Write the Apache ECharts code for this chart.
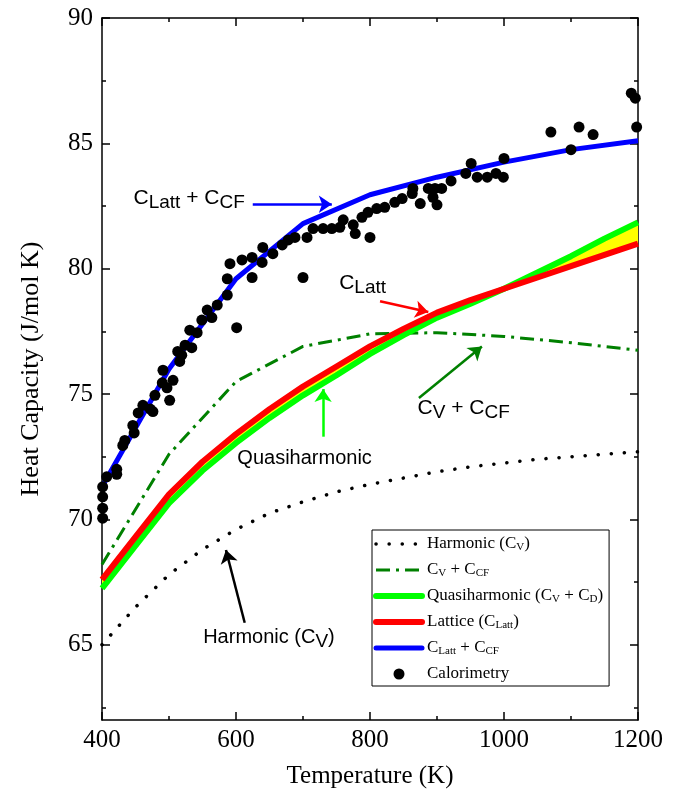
<!DOCTYPE html>
<html>
<head>
<meta charset="utf-8">
<script src="https://cdn.jsdelivr.net/npm/echarts@6/dist/echarts.min.js"></script>
<style>
  html, body { margin: 0; padding: 0; background: #fff; }
  #main { width: 679px; height: 800px; }
</style>
</head>
<body>
<div id="main"></div>
<script>
// temperature grids (K)
var tempsFine = [400, 450, 500, 550, 600, 650, 700, 750, 800, 850, 900, 950, 1000, 1050, 1100, 1150, 1200];
var tempsCoarse = [400, 500, 600, 700, 800, 900, 1000, 1100, 1200];

// model curves, J/mol K
var harmonic = [65.0, 66.5, 67.8, 68.8, 69.6, 70.25, 70.7, 71.1, 71.4, 71.65, 71.9, 72.1, 72.25, 72.4, 72.5, 72.6, 72.7];
var lattice = [67.6, 69.3, 71.0, 72.3, 73.4, 74.4, 75.3, 76.1, 76.9, 77.6, 78.25, 78.75, 79.2, 79.65, 80.1, 80.55, 81.0];
var quasiharm = [67.25, 68.95, 70.65, 71.95, 73.05, 74.05, 74.95, 75.75, 76.6, 77.35, 78.05, 78.6, 79.2, 79.85, 80.5, 81.2, 81.85];
var cvPlusCf = [68.2, 72.6, 75.5, 76.9, 77.4, 77.45, 77.3, 77.05, 76.75];
var lattPlusCf = [71.3, 76.0, 79.6, 81.8, 82.95, 83.65, 84.25, 84.75, 85.1];

// calorimetry points
var calTemps = [401, 401, 401, 401, 407, 422, 422, 431, 434, 446, 448, 454, 461, 472, 476, 479, 491, 490, 497, 501,
  506, 516, 519, 513, 524, 534, 531, 542, 549, 557, 564, 572, 587, 587, 591, 601, 609, 624, 624, 639,
  640, 655, 669, 678, 688, 700, 706, 715, 730, 743, 755, 760, 775, 778, 788, 800, 797, 810, 822, 837,
  848, 863, 864, 875, 887, 894, 897, 900, 907, 921, 943, 951, 960, 975, 988, 999, 1000, 1070, 1100, 1112,
  1133, 1190, 1196, 1198];
var calCp = [71.3, 70.9, 70.45, 70.05, 71.7, 72.0, 71.8, 72.95, 73.15, 73.75, 73.45, 74.25, 74.55, 74.4, 74.3, 74.95, 75.95, 75.45, 75.25, 74.75,
  75.55, 76.3, 76.55, 76.7, 76.95, 76.85, 77.55, 77.45, 77.95, 78.35, 78.05, 78.55, 78.95, 79.6, 80.2, 77.65, 80.35, 80.45, 79.65, 80.25,
  80.85, 80.6, 80.95, 81.15, 81.25, 79.65, 81.25, 81.6, 81.6, 81.6, 81.65, 81.95, 81.75, 81.4, 82.05, 81.25, 82.25, 82.4, 82.45, 82.65,
  82.8, 83.0, 83.2, 82.6, 83.2, 82.85, 83.2, 82.55, 83.2, 83.5, 83.8, 84.2, 83.65, 83.65, 83.8, 83.65, 84.4, 85.45, 84.75, 85.65,
  85.35, 87.0, 86.8, 85.65];

var majorY = [65, 70, 75, 80, 85, 90];
var minorY = [62.5, 67.5, 72.5, 77.5, 82.5, 87.5];

function pairs(xs, ys) {
  return xs.map(function (x, i) { return [x, ys[i]]; });
}

var serif = 'Liberation Serif';
var sans = 'Liberation Sans';

var legendNames = {
  harm: 'Harmonic (C{s|V})',
  cvcf: 'C{s|V} + C{s|CF}',
  qh: 'Quasiharmonic (C{s|V} + C{s|D})',
  latt: 'Lattice (C{s|Latt})',
  lattcf: 'C{s|Latt} + C{s|CF}',
  cal: 'Calorimetry'
};

function yAx(pos, ticks, len, showLine, showLabel) {
  return {
    type: 'value', min: 62, max: 90, position: pos,
    axisLine: { show: showLine, lineStyle: { color: '#000', width: 1.5 } },
    axisTick: { inside: true, length: len, customValues: ticks, lineStyle: { color: '#000', width: 1.5 } },
    axisLabel: { show: showLabel, customValues: ticks, fontFamily: serif, fontSize: 25, color: '#000', margin: 9 },
    splitLine: { show: false }
  };
}

function xAx(pos, showLabel) {
  return {
    type: 'value', min: 400, max: 1200, interval: 200, position: pos,
    axisLine: { show: true, onZero: false, lineStyle: { color: '#000', width: 1.5 } },
    axisTick: { inside: true, length: 8, lineStyle: { color: '#000', width: 1.5 } },
    minorTick: { show: true, splitNumber: 2, length: 4, lineStyle: { color: '#000', width: 1.5 } },
    axisLabel: {
      show: showLabel, fontFamily: serif, fontSize: 25, color: '#000', margin: 8,
      formatter: function (v) { return String(v); }
    },
    splitLine: { show: false }
  };
}

var xBottom = xAx('bottom', true);
xBottom.name = 'Temperature (K)';
xBottom.nameLocation = 'middle';
xBottom.nameGap = 44;
xBottom.nameTextStyle = { fontFamily: serif, fontSize: 25, color: '#000' };

var yLeft = yAx('left', majorY, 8, true, true);
yLeft.name = 'Heat Capacity (J/mol K)';
yLeft.nameLocation = 'middle';
yLeft.nameGap = 58;
yLeft.nameTextStyle = { fontFamily: serif, fontSize: 26, color: '#000' };

function annText(t, v, text, size, sub) {
  return {
    coord: [t, v], symbol: 'circle', symbolSize: 0,
    label: {
      show: true, position: 'right', distance: 0, formatter: text,
      fontFamily: sans, fontSize: size, color: '#000',
      rich: { s: { fontFamily: sans, fontSize: sub, color: '#000', padding: [10, 0, 0, 0] } }
    }
  };
}

function arrow(a, b, color) {
  return [
    { coord: a, lineStyle: { color: color, width: 2.5, type: 'solid' } },
    { coord: b }
  ];
}

var chart = echarts.init(document.getElementById('main'));
chart.setOption({
  animation: false,
  backgroundColor: '#fff',
  grid: { left: 102, right: 41, top: 18, bottom: 80 },
  xAxis: [xBottom, xAx('top', false)],
  yAxis: [yLeft, yAx('left', minorY, 4, false, false), yAx('right', majorY, 8, true, false), yAx('right', minorY, 4, false, false)],
  legend: {
    left: 372, top: 530, orient: 'vertical',
    itemWidth: 46, itemHeight: 11, itemGap: 8,
    padding: [5, 6, 3, 1],
    borderColor: '#000', borderWidth: 1, backgroundColor: '#fff',
    itemStyle: { opacity: 0 },
    data: [
      { name: 'harm', lineStyle: { width: 3.5, color: '#000', type: [0.1, 13], cap: 'round' } },
      { name: 'cvcf', lineStyle: { width: 3, color: '#008000', type: [14, 6, 3, 6] } },
      { name: 'qh', lineStyle: { width: 6, color: '#00ff00', type: 'solid', cap: 'round' } },
      { name: 'latt', lineStyle: { width: 6, color: '#ff0000', type: 'solid', cap: 'round' } },
      { name: 'lattcf', lineStyle: { width: 5, color: '#0000ff', type: 'solid', cap: 'round' } },
      { name: 'cal', icon: 'circle', itemStyle: { opacity: 1, color: '#000' } }
    ],
    formatter: function (n) { return legendNames[n]; },
    textStyle: {
      fontFamily: serif, fontSize: 17, color: '#000', lineHeight: 18,
      rich: { s: { fontFamily: serif, fontSize: 11, color: '#000', padding: [7, 0, 0, 0] } }
    }
  },
  series: [
    {
      type: 'custom', name: 'band', silent: true, z: 1,
      data: [[tempsFine[0], lattice[0]]],
      renderItem: function (params, api) {
        var pts = [];
        for (var i = 0; i < tempsFine.length; i++) pts.push(api.coord([tempsFine[i], lattice[i]]));
        for (var j = tempsFine.length - 1; j >= 0; j--) pts.push(api.coord([tempsFine[j], quasiharm[j]]));
        return { type: 'polygon', shape: { points: pts }, style: { fill: '#ffff00' } };
      }
    },
    {
      name: 'harm', type: 'line', symbol: 'none', z: 2,
      data: pairs(tempsFine, harmonic),
      lineStyle: { color: '#000', width: 3.5, type: [0.1, 13], cap: 'round' }, itemStyle: { color: '#000' }
    },
    {
      name: 'cvcf', type: 'line', symbol: 'none', z: 2,
      data: pairs(tempsCoarse, cvPlusCf),
      lineStyle: { color: '#008000', width: 3, type: [14, 6, 3, 6] }, itemStyle: { color: '#008000' }
    },
    {
      name: 'qh', type: 'line', symbol: 'none', z: 3,
      data: pairs(tempsFine, quasiharm),
      lineStyle: { color: '#00ff00', width: 6 }, itemStyle: { color: '#00ff00' }
    },
    {
      name: 'latt', type: 'line', symbol: 'none', z: 4,
      data: pairs(tempsFine, lattice),
      lineStyle: { color: '#ff0000', width: 6 }, itemStyle: { color: '#ff0000' }
    },
    {
      name: 'lattcf', type: 'line', symbol: 'none', z: 5,
      data: pairs(tempsCoarse, lattPlusCf),
      lineStyle: { color: '#0000ff', width: 5 }, itemStyle: { color: '#0000ff' }
    },
    {
      name: 'cal', type: 'scatter', symbol: 'circle', symbolSize: 11, z: 6,
      data: pairs(calTemps, calCp),
      itemStyle: { color: '#000', opacity: 1 }
    },
    {
      name: 'notes', type: 'line', data: [], z: 7, silent: true,
      markLine: {
        silent: true, symbol: ['none', 'arrow'], symbolSize: 13,
        label: { show: false }, emphasis: { disabled: true },
        data: [
          arrow([625, 82.57], [743, 82.57], '#0000ff'),
          arrow([815, 78.7], [887, 78.27], '#ff0000'),
          arrow([730, 73.3], [730, 75.2], '#00ff00'),
          arrow([873, 74.84], [967, 76.9], '#008000'),
          arrow([613, 65.88], [585, 68.78], '#000')
        ]
      },
      markPoint: {
        silent: true,
        data: [
          annText(447, 82.81, 'C{s|Latt} + C{s|CF}', 21, 19),
          annText(754, 79.42, 'C{s|Latt}', 21, 19),
          annText(602, 72.45, 'Quasiharmonic', 20, 18),
          annText(871, 74.44, 'C{s|V} + C{s|CF}', 21, 19),
          annText(551, 65.3, 'Harmonic (C{s|V})', 20, 19)
        ]
      }
    }
  ]
});
</script>
</body>
</html>
